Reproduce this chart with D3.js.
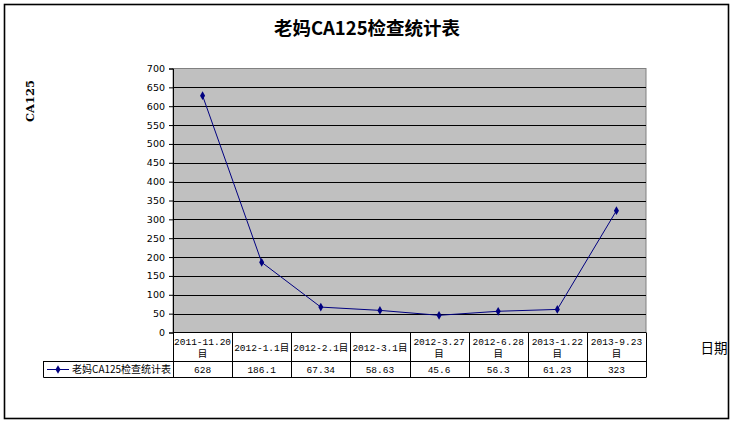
<!DOCTYPE html>
<html>
<head>
<meta charset="utf-8">
<script src="https://cdn.jsdelivr.net/npm/d3@7/dist/d3.min.js"></script>
<style>
  html, body { margin: 0; padding: 0; background: #fff; }
  svg { display: block; }
</style>
</head>
<body>
<svg id="chart" width="732" height="423"></svg>
<script>
// CA125 readings per check date
const categories = ["2011-11.20目", "2012-1.1目", "2012-2.1目", "2012-3.1目",
                    "2012-3.27目", "2012-6.28目", "2013-1.22目", "2013-9.23目"];
const values = [628, 186.1, 67.34, 58.63, 45.6, 56.3, 61.23, 323];
const valueLabels = ["628", "186.1", "67.34", "58.63", "45.6", "56.3", "61.23", "323"];
const yTicks = [0, 50, 100, 150, 200, 250, 300, 350, 400, 450, 500, 550, 600, 650, 700];
const seriesName = "老妈CA125检查统计表";

const svg = d3.select("#chart");
const plot = { left: 173, right: 646, top: 68.5, bottom: 332.5 };
const tableRow1 = 361, tableRow2 = 377, legendLeft = 43.5;
const cjk = "'Noto Sans CJK SC', sans-serif";
const mono = "'Liberation Mono', 'Noto Sans CJK SC', monospace";

// outer frame
svg.append("rect").attr("x", 4.5).attr("y", 4.5).attr("width", 724).attr("height", 414)
  .attr("fill", "#fff").attr("stroke", "#000").attr("stroke-width", 1.6);

// title
svg.append("text").attr("x", 367).attr("y", 35).attr("text-anchor", "middle")
  .attr("font-family", cjk).attr("font-weight", "bold").attr("font-size", 18.5)
  .text(seriesName);

const x = d3.scaleBand().domain(categories).range([plot.left, plot.right]);
const y = d3.scaleLinear().domain([0, 700]).range([plot.bottom, plot.top]);

// plot background
svg.append("rect").attr("x", plot.left).attr("y", plot.top)
  .attr("width", plot.right - plot.left).attr("height", plot.bottom - plot.top)
  .attr("fill", "#c0c0c0").attr("stroke", "#808080").attr("stroke-width", 1);

// horizontal gridlines
svg.append("g").selectAll("line").data(yTicks.filter(t => t > 0 && t < 700)).join("line")
  .attr("x1", plot.left).attr("x2", plot.right)
  .attr("y1", d => Math.round(y(d)) + 0.5).attr("y2", d => Math.round(y(d)) + 0.5)
  .attr("stroke", "#000").attr("stroke-width", 1);

// value axis
const yAxis = svg.append("g").attr("transform", `translate(${plot.left},0)`)
  .call(d3.axisLeft(y).tickValues(yTicks).tickSize(4).tickPadding(4));
yAxis.select(".domain").attr("stroke", "#000");
yAxis.selectAll("text").attr("font-family", "'DejaVu Sans', sans-serif")
  .attr("font-size", 9.5).attr("fill", "#000");

// axis titles
svg.append("text").attr("transform", "translate(34,101) rotate(-90)")
  .attr("text-anchor", "middle").attr("font-family", "'DejaVu Serif', serif")
  .attr("font-weight", "bold").attr("font-size", 11.5).text("CA125");
svg.append("text").attr("x", 714).attr("y", 353).attr("text-anchor", "middle")
  .attr("font-family", cjk).attr("font-size", 13.5).text("日期");

// data line and markers
const cx = d => x(d) + x.bandwidth() / 2;
const line = d3.line().x((d, i) => cx(categories[i])).y(d => y(d));
svg.append("path").datum(values).attr("d", line)
  .attr("fill", "none").attr("stroke", "#000080").attr("stroke-width", 1);
const diamond = d3.symbol().type(d3.symbolDiamond).size(22);
svg.append("g").selectAll("path").data(values).join("path")
  .attr("d", diamond)
  .attr("transform", (d, i) => `translate(${cx(categories[i])},${y(d)})`)
  .attr("fill", "#000080");

// data table
const table = svg.append("g").attr("stroke", "#000").attr("stroke-width", 1).attr("fill", "none");
table.append("line").attr("x1", plot.left).attr("x2", plot.right)
  .attr("y1", plot.bottom).attr("y2", plot.bottom);
table.append("line").attr("x1", legendLeft).attr("x2", plot.right)
  .attr("y1", tableRow1 + 0.5).attr("y2", tableRow1 + 0.5);
table.append("line").attr("x1", legendLeft).attr("x2", plot.right)
  .attr("y1", tableRow2 + 0.5).attr("y2", tableRow2 + 0.5);
table.append("line").attr("x1", legendLeft).attr("x2", legendLeft)
  .attr("y1", tableRow1).attr("y2", tableRow2 + 0.5);
table.selectAll(".col").data(categories.concat(["end"])).join("line")
  .attr("x1", (d, i) => Math.round(plot.left + i * x.bandwidth()) + 0.5)
  .attr("x2", (d, i) => Math.round(plot.left + i * x.bandwidth()) + 0.5)
  .attr("y1", plot.bottom).attr("y2", tableRow2 + 0.5);

// category labels (wrapped when wider than a cell)
const catG = svg.append("g").attr("font-family", mono).attr("font-size", 9.5).attr("text-anchor", "middle");
categories.forEach(c => {
  const t = catG.append("text").attr("x", cx(c)).attr("y", 350.5).text(c);
  if (t.node().getComputedTextLength() > x.bandwidth() - 3) {
    t.text(null);
    t.append("tspan").attr("x", cx(c)).attr("y", 344.5).text(c.slice(0, -1));
    t.append("tspan").attr("x", cx(c)).attr("y", 357).text(c.slice(-1));
  }
});

// value row
svg.append("g").selectAll("text").data(valueLabels).join("text")
  .attr("x", (d, i) => cx(categories[i])).attr("y", 372.5)
  .attr("text-anchor", "middle").attr("font-family", mono).attr("font-size", 9.5)
  .text(d => d);

// legend key inside the value row
svg.append("line").attr("x1", 47).attr("x2", 69).attr("y1", 369.5).attr("y2", 369.5)
  .attr("stroke", "#000080").attr("stroke-width", 1);
svg.append("path").attr("d", diamond).attr("transform", "translate(58,369.5)").attr("fill", "#000080");
svg.append("text").attr("x", 72).attr("y", 373).attr("font-family", cjk).attr("font-size", 10)
  .text(seriesName);
</script>
</body>
</html>
